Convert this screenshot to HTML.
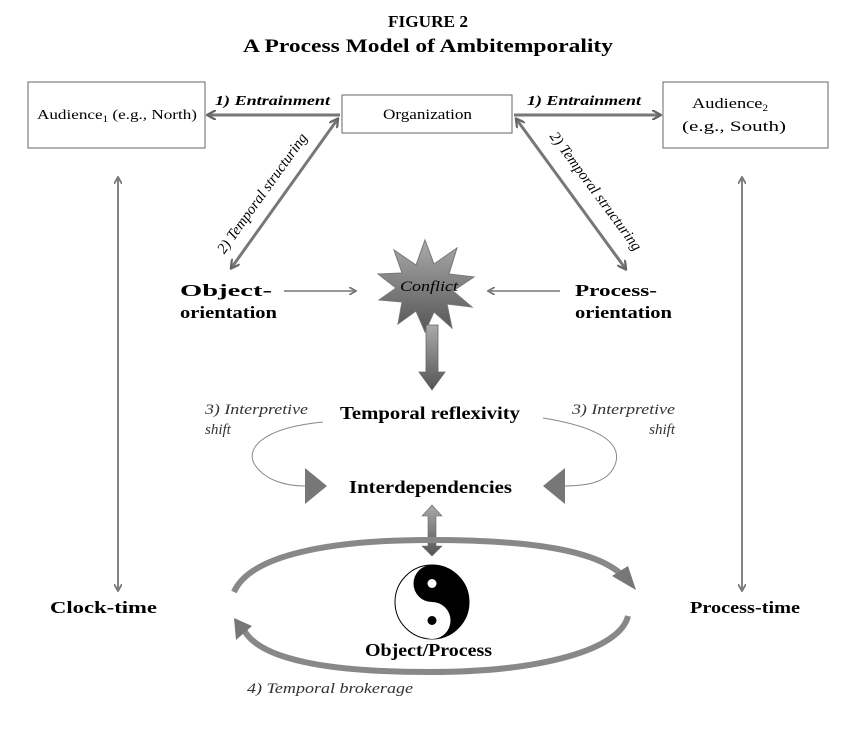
<!DOCTYPE html>
<html><head><meta charset="utf-8"><style>
html,body{margin:0;padding:0;background:#fff;}
svg text{font-family:"Liberation Serif",serif;}
</style></head><body>
<svg width="855" height="725" viewBox="0 0 855 725" xmlns="http://www.w3.org/2000/svg">
<defs>
<marker id="ah" markerWidth="8" markerHeight="8" refX="6" refY="4" orient="auto-start-reverse" markerUnits="userSpaceOnUse">
<path d="M0,0 L7,4 L0,8" fill="none" stroke="#777" stroke-width="1.8"/></marker>
<marker id="at" markerWidth="10" markerHeight="10" refX="7" refY="5" orient="auto-start-reverse" markerUnits="userSpaceOnUse">
<path d="M0,0 L9,5 L0,10" fill="none" stroke="#666" stroke-width="2.2"/></marker>
<linearGradient id="g1" x1="0" y1="0" x2="0" y2="1"><stop offset="0" stop-color="#aaa"/><stop offset="1" stop-color="#555"/></linearGradient>
</defs>
<text x="388" y="27" font-weight="bold" font-size="17" textLength="80" lengthAdjust="spacingAndGlyphs">FIGURE 2</text>
<text x="243" y="52" font-weight="bold" font-size="19" textLength="370" lengthAdjust="spacingAndGlyphs">A Process Model of Ambitemporality</text>

<rect x="28" y="82" width="177" height="66" fill="#fff" stroke="#666" stroke-width="1"/>
<text x="37" y="119" font-size="14" textLength="160" lengthAdjust="spacingAndGlyphs">Audience<tspan font-size="9" dy="3">1</tspan><tspan dy="-3"> (e.g., North)</tspan></text>
<rect x="342" y="95" width="170" height="38" fill="#fff" stroke="#666" stroke-width="1"/>
<text x="383" y="119" font-size="15" textLength="89" lengthAdjust="spacingAndGlyphs">Organization</text>
<rect x="663" y="82" width="165" height="66" fill="#fff" stroke="#666" stroke-width="1"/>
<text x="692" y="108" font-size="15" textLength="76" lengthAdjust="spacingAndGlyphs">Audience<tspan font-size="9" dy="3">2</tspan></text>
<text x="682" y="131" font-size="15" textLength="104" lengthAdjust="spacingAndGlyphs">(e.g., South)</text>

<g stroke="#777" stroke-width="3" fill="none">
<line x1="340" y1="115" x2="209" y2="115" marker-end="url(#at)"/>
<line x1="514" y1="115" x2="659" y2="115" marker-end="url(#at)"/>
<line x1="337" y1="120" x2="232" y2="267" marker-start="url(#at)" marker-end="url(#at)"/>
<line x1="517" y1="120" x2="625" y2="268" marker-start="url(#at)" marker-end="url(#at)"/>
<line x1="118" y1="178" x2="118" y2="590" stroke-width="1.8" marker-start="url(#ah)" marker-end="url(#ah)"/>
<line x1="742" y1="178" x2="742" y2="590" stroke-width="1.8" marker-start="url(#ah)" marker-end="url(#ah)"/>
<line x1="284" y1="291" x2="355" y2="291" stroke-width="1.5" marker-end="url(#ah)"/>
<line x1="560" y1="291" x2="489" y2="291" stroke-width="1.5" marker-end="url(#ah)"/>
</g>
<text x="215" y="105" font-size="14" font-weight="bold" font-style="italic" textLength="115" lengthAdjust="spacingAndGlyphs">1) Entrainment</text>
<text x="527" y="105" font-size="14" font-weight="bold" font-style="italic" textLength="114" lengthAdjust="spacingAndGlyphs">1) Entrainment</text>
<text transform="translate(266,196) rotate(-54.5)" text-anchor="middle" font-size="15" font-style="italic">2) Temporal structuring</text>
<text transform="translate(592,194) rotate(53.5)" text-anchor="middle" font-size="15" font-style="italic">2) Temporal structuring</text>

<text x="180" y="296" font-size="17" font-weight="bold" textLength="92" lengthAdjust="spacingAndGlyphs">Object-</text>
<text x="180" y="318" font-size="17" font-weight="bold" textLength="97" lengthAdjust="spacingAndGlyphs">orientation</text>
<text x="575" y="296" font-size="17" font-weight="bold" textLength="82" lengthAdjust="spacingAndGlyphs">Process-</text>
<text x="575" y="318" font-size="17" font-weight="bold" textLength="97" lengthAdjust="spacingAndGlyphs">orientation</text>

<polygon points="425,240 434,264 457,248 449,274 474,277 453,291 472,307 447,304 452,328 434,312 425,332 416,311 398,324 402,302 379,300 396,288 378,274 402,273 394,250 416,265" fill="url(#g1)" stroke="#777"/>
<text x="400" y="291" font-size="15" font-style="italic" textLength="58" lengthAdjust="spacingAndGlyphs">Conflict</text>

<polygon points="426,325 438,325 438,372 445,372 432,390 419,372 426,372" fill="url(#g1)" stroke="#666" stroke-width="0.8"/>

<text x="340" y="419" font-size="18" font-weight="bold" textLength="180" lengthAdjust="spacingAndGlyphs">Temporal reflexivity</text>
<text x="205" y="414" font-size="15" font-style="italic" fill="#333" textLength="103" lengthAdjust="spacingAndGlyphs">3) Interpretive</text>
<text x="205" y="434" font-size="15" font-style="italic" fill="#333">shift</text>
<text x="572" y="414" font-size="15" font-style="italic" fill="#333" textLength="103" lengthAdjust="spacingAndGlyphs">3) Interpretive</text>
<text x="675" y="434" text-anchor="end" font-size="15" font-style="italic" fill="#333">shift</text>
<path d="M323,422 C260,428 245,450 255,465 C265,480 285,486 305,486" fill="none" stroke="#888" stroke-width="1"/>
<path d="M543,418 C605,428 620,445 616,462 C610,482 590,486 562,486" fill="none" stroke="#888" stroke-width="1"/>
<polygon points="305,468 327,486 305,504" fill="#777"/>
<polygon points="565,468 543,486 565,504" fill="#777"/>
<text x="349" y="493" font-size="18" font-weight="bold" textLength="163" lengthAdjust="spacingAndGlyphs">Interdependencies</text>

<polygon points="432,505 442,516 436,516 436,546 442,546 432,556 422,546 428,546 428,516 422,516" fill="url(#g1)" stroke="#666" stroke-width="0.6"/>

<path d="M234,592 C250,555 330,540 430,540 C530,540 600,550 625,578" fill="none" stroke="#888" stroke-width="6"/>
<polygon points="612,576 636,590 628,566" fill="#777"/>
<path d="M628,616 C620,650 540,672 430,672 C330,672 260,660 244,630" fill="none" stroke="#888" stroke-width="6"/>
<polygon points="234,618 236,640 252,626" fill="#777"/>

<g transform="translate(432,602)">
<circle r="37" fill="#fff" stroke="#000" stroke-width="1"/>
<path d="M0,-37 A37,37 0 0 1 0,37 Z" fill="#000"/>
<circle cy="-18.5" r="18.5" fill="#000"/>
<circle cy="18.5" r="18.5" fill="#fff"/>
<circle cy="-18.5" r="4.5" fill="#fff"/>
<circle cy="18.5" r="4.5" fill="#000"/>
</g>
<text x="365" y="656" font-size="18" font-weight="bold" textLength="127" lengthAdjust="spacingAndGlyphs">Object/Process</text>
<text x="247" y="693" font-size="15" font-style="italic" fill="#333" textLength="166" lengthAdjust="spacingAndGlyphs">4) Temporal brokerage</text>

<text x="50" y="613" font-size="17" font-weight="bold" textLength="107" lengthAdjust="spacingAndGlyphs">Clock-time</text>
<text x="690" y="613" font-size="17" font-weight="bold" textLength="110" lengthAdjust="spacingAndGlyphs">Process-time</text>
</svg>
</body></html>
